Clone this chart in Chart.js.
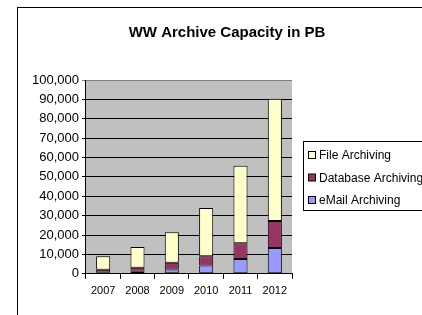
<!DOCTYPE html>
<html>
<head>
<meta charset="utf-8">
<script src="https://cdn.jsdelivr.net/npm/chart.js@4"></script>
<style>
  html, body { margin: 0; padding: 0; background: #fff; overflow: hidden; }
  #wrap { width: 422px; height: 315px; position: relative; }
</style>
</head>
<body>
<div id="wrap"><canvas id="my-chart"></canvas></div>
<script>
'use strict';

// >>> chart data <<<
const chartTitle = 'WW Archive Capacity in PB';
const years = ['2007', '2008', '2009', '2010', '2011', '2012'];
const emailArchiving = [500, 1000, 2200, 4300, 7600, 13300];
const databaseArchiving = [1600, 2100, 3500, 4700, 8100, 13900];
const fileArchiving = [6900, 10700, 15800, 24900, 40000, 63100];
const yTicks = [0, 10000, 20000, 30000, 40000, 50000, 60000, 70000, 80000, 90000, 100000];

const fontFamily = 'Arial, "Liberation Sans", sans-serif';

// grey plot area, outer frame, title and legend box
const framePlugin = {
  id: 'frame',
  beforeDraw(chart) {
    const ctx = chart.ctx;
    const a = chart.chartArea;
    ctx.save();
    ctx.fillStyle = '#fff';
    ctx.fillRect(0, 0, chart.width, chart.height);
    ctx.fillStyle = '#c0c0c0';
    ctx.fillRect(a.left, a.top, a.right - a.left, a.bottom - a.top);
    ctx.restore();
  },
  afterDraw(chart) {
    const ctx = chart.ctx;
    ctx.save();
    ctx.strokeStyle = '#000';
    ctx.lineWidth = 1;
    ctx.strokeRect(17.5, 7.5, 600, 500);

    // title
    ctx.fillStyle = '#000';
    ctx.font = 'bold 15px ' + fontFamily;
    ctx.textAlign = 'center';
    ctx.textBaseline = 'middle';
    ctx.fillText(chartTitle, 227, 33);

    // legend box, items listed top-down in reverse stacking order
    ctx.textAlign = 'left';
    ctx.fillStyle = '#fff';
    ctx.fillRect(303.5, 141.5, 200, 69);
    ctx.strokeRect(303.5, 141.5, 200, 69);
    ctx.font = '12px ' + fontFamily;
    const sets = chart.data.datasets.slice().reverse();
    sets.forEach((ds, i) => {
      const y = 156 + i * 22.5;
      ctx.fillStyle = ds.backgroundColor;
      ctx.fillRect(308.5, y - 4.5, 7, 7);
      ctx.strokeStyle = '#000';
      ctx.strokeRect(308.5, y - 4.5, 7, 7);
      ctx.fillStyle = '#000';
      ctx.fillText(ds.label, 319, y);
    });
    ctx.restore();
  }
};

function makeSet(label, data, color) {
  return {
    label: label,
    data: data,
    backgroundColor: color,
    borderColor: '#000',
    borderWidth: 1,
    borderSkipped: false,
    barPercentage: 0.41,
    categoryPercentage: 1
  };
}

const ctxEl = document.getElementById('my-chart').getContext('2d');
new Chart(ctxEl, {
  type: 'bar',
  data: {
    labels: years,
    datasets: [
      makeSet('eMail Archiving', emailArchiving, '#9999ff'),
      makeSet('Database Archiving', databaseArchiving, '#993366'),
      makeSet('File Archiving', fileArchiving, '#ffffcc')
    ]
  },
  options: {
    responsive: true,
    maintainAspectRatio: false,
    animation: false,
    devicePixelRatio: 1,
    layout: { padding: { left: 29, right: 130, top: 80, bottom: 11 } },
    plugins: {
      legend: { display: false },
      tooltip: { enabled: false },
      title: { display: false }
    },
    scales: {
      x: {
        stacked: true,
        grid: {
          offset: true,
          drawOnChartArea: false,
          drawTicks: true,
          tickLength: 5,
          color: '#000'
        },
        border: { color: '#000', width: 1 },
        ticks: {
          color: '#000',
          padding: 6,
          font: { family: fontFamily, size: 11 }
        }
      },
      y: {
        stacked: true,
        min: 0,
        max: 100000,
        afterBuildTicks(scale) {
          scale.ticks = yTicks.map(v => ({ value: v }));
        },
        grid: {
          color: ctx => (ctx.tick && ctx.tick.value === 100000 ? '#808080' : '#000'),
          lineWidth: 1,
          drawTicks: true,
          tickLength: 4
        },
        border: { color: '#000', width: 1 },
        ticks: {
          color: '#000',
          padding: 3,
          font: { family: fontFamily, size: 13 },
          callback: v => v.toLocaleString('en-US')
        }
      }
    }
  },
  plugins: [framePlugin]
});
</script>
</body>
</html>
